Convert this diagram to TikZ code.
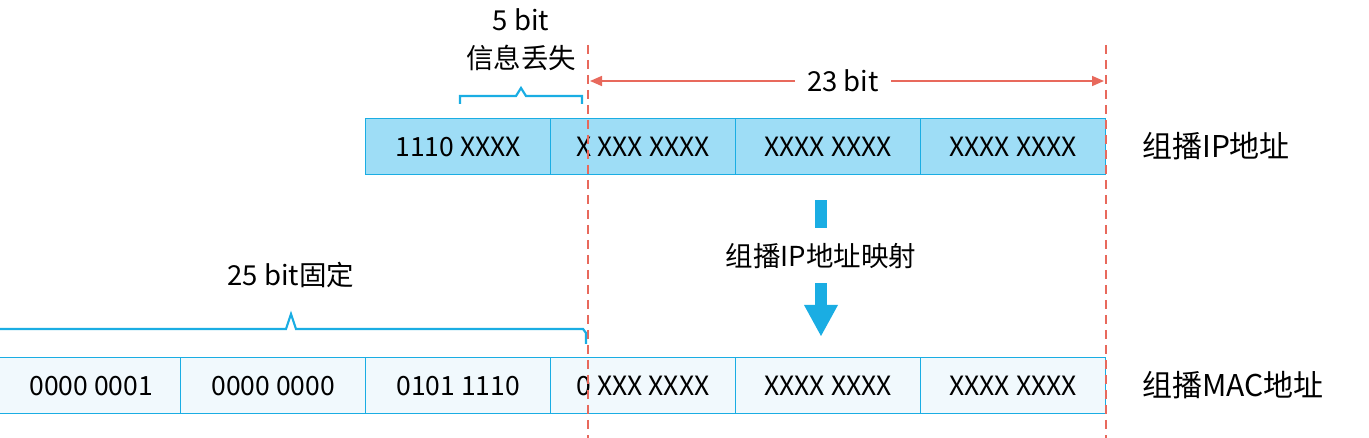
\documentclass[tikz,border=0pt]{standalone}
\usepackage{fontspec}
\setmainfont{Noto Sans CJK SC}
\usetikzlibrary{arrows.meta}
\definecolor{bl}{HTML}{1AADE3}
\definecolor{ipf}{HTML}{9EDDF6}
\definecolor{macf}{HTML}{F1F9FD}
\definecolor{rd}{HTML}{E8695C}
\tikzset{x=1pt,y=-1pt,
 cell/.style={draw=bl,line width=1.2pt,minimum width=185pt,minimum height=56pt,inner sep=0pt,font=\fontsize{26.5}{30}\selectfont,anchor=north west},
 ipc/.style={cell,fill=ipf},
 macc/.style={cell,fill=macf},
 lbl/.style={font=\fontsize{27.5}{31}\selectfont,inner sep=0pt},
 brace/.style={draw=bl,line width=2.2pt},
 dl/.style={draw=rd,line width=1.6pt,dash pattern=on 9pt off 6pt}}
\begin{document}
\begin{tikzpicture}
\useasboundingbox (0,0) rectangle (1369,438);
\node[ipc] (i1) at (365,118) {1110 XXXX};
\node[ipc] (i2) at (550,118) {X XXX XXXX};
\node[ipc] (i3) at (735,118) {XXXX XXXX};
\node[ipc] (i4) at (920,118) {XXXX XXXX};
\node[macc] (m0) at (-5,357) {\hspace{6pt}0000 0001};
\node[macc] (m1) at (180,357) {0000 0000};
\node[macc] (m2) at (365,357) {0101 1110};
\node[macc] (m3) at (550,357) {0 XXX XXXX};
\node[macc] (m4) at (735,357) {XXXX XXXX};
\node[macc] (m5) at (920,357) {XXXX XXXX};
\node[lbl,anchor=west,font=\fontsize{30}{34}\selectfont] (lip) at (1142,146) {组播IP地址};
\node[lbl,anchor=west,font=\fontsize{30}{34}\selectfont] (lmac) at (1142,385) {组播MAC地址};
\coordinate (d1t) at (588,45); \coordinate (d1b) at (588,438);
\coordinate (d2t) at (1106,45); \coordinate (d2b) at (1106,438);
\draw[dl] (d1t) -- (d1b);
\draw[dl] (d2t) -- (d2b);
\node[lbl] (b23) at (843,81) {23 bit};
\draw[rd,line width=1.6pt,-{Triangle[length=12pt,width=10pt]}] (b23.west) ++(-12,0) -- (590,81);
\draw[rd,line width=1.6pt,-{Triangle[length=12pt,width=10pt]}] (b23.east) ++(12,0) -- (1104,81);
\node[lbl] (t5) at (521,20) {5 bit};
\node[lbl] (t5b) at (521,58) {信息丢失};
\draw[brace] (460,104) -- (460,96) -- (516,96) -- (521,88) -- (526,96) -- (582,96) -- (582,104);
\node[lbl] (t25) at (291,275) {25 bit固定};
\draw[brace] (0,329) -- (286,329) -- (291,314) -- (296,329) -- (583,329) -- (586,333) -- (586,344);
\node[lbl] (tm) at (821,256) {组播IP地址映射};
\fill[bl] (815,200) rectangle (827,228);
\fill[bl] (815,283) rectangle (827,305);
\fill[bl] (804,305) -- (838,305) -- (821,336) -- cycle;
\end{tikzpicture}
\end{document}
